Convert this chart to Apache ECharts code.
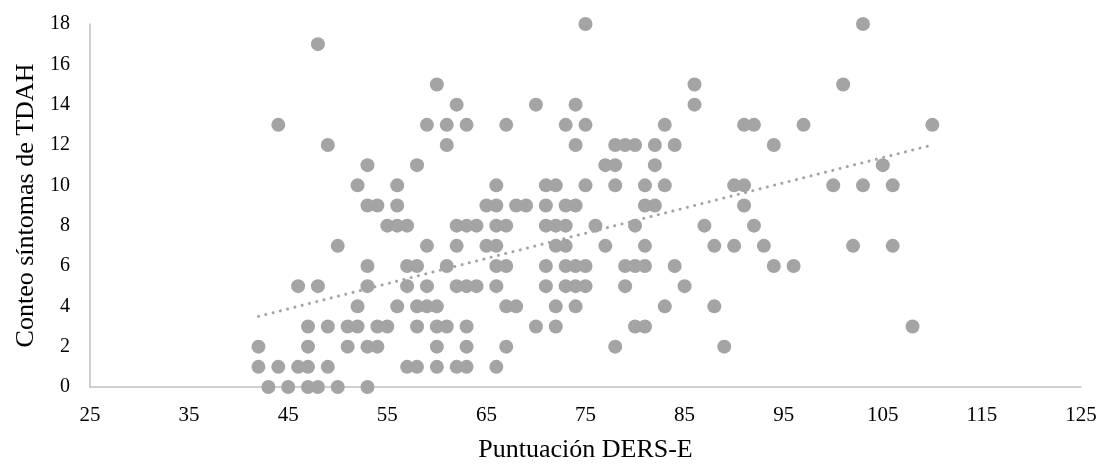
<!DOCTYPE html>
<html>
<head>
<meta charset="utf-8">
<script src="https://cdn.jsdelivr.net/npm/echarts@6/dist/echarts.min.js"></script>
<style>
html,body{margin:0;padding:0;background:#fff;}
#chart{width:1106px;height:464px;}
</style>
</head>
<body>
<div id="chart"></div>
<script>
// Puntuación DERS-E (x) and Conteo síntomas de TDAH (y), one entry per participant
const dersScores = [
  43,45,47,48,50,53,
  42,44,46,47,49,57,58,60,62,63,66,
  42,47,51,53,54,60,63,67,78,89,
  47,49,51,52,54,55,58,60,61,63,70,72,80,81,108,
  52,56,58,59,60,67,68,72,74,83,88,
  46,48,53,57,59,62,63,64,66,71,73,74,75,79,85,
  53,57,58,61,66,67,71,73,74,75,79,80,81,84,94,96,
  50,59,62,65,66,72,73,77,81,88,90,93,102,106,
  55,56,57,62,63,64,66,67,71,72,73,76,80,87,92,
  53,54,56,65,66,68,69,71,73,74,81,82,91,
  52,56,66,71,72,75,78,81,83,90,91,100,103,106,
  53,58,77,78,82,105,
  49,61,74,78,79,80,82,84,94,
  44,59,61,63,67,73,75,83,91,92,97,110,
  62,70,74,86,
  60,86,101,
  48,
  75,103
];
const tdahCounts = [
  0,0,0,0,0,0,
  1,1,1,1,1,1,1,1,1,1,1,
  2,2,2,2,2,2,2,2,2,2,
  3,3,3,3,3,3,3,3,3,3,3,3,3,3,3,
  4,4,4,4,4,4,4,4,4,4,4,
  5,5,5,5,5,5,5,5,5,5,5,5,5,5,5,
  6,6,6,6,6,6,6,6,6,6,6,6,6,6,6,6,
  7,7,7,7,7,7,7,7,7,7,7,7,7,7,
  8,8,8,8,8,8,8,8,8,8,8,8,8,8,8,
  9,9,9,9,9,9,9,9,9,9,9,9,9,
  10,10,10,10,10,10,10,10,10,10,10,10,10,10,
  11,11,11,11,11,11,
  12,12,12,12,12,12,12,12,12,
  13,13,13,13,13,13,13,13,13,13,13,13,
  14,14,14,14,
  15,15,15,
  17,
  18,18
];
// Linear trend line: [DERS-E, TDAH] at its two ends
const trendX = [42, 110];
const trendY = [3.5, 12.0];
const xTicks = {min: 25, max: 125, interval: 10};
const yTicks = {min: 0, max: 18, interval: 2};
const xTitle = 'Puntuación DERS-E';
const yTitle = 'Conteo síntomas de TDAH';

const points = dersScores.map((x, i) => [x, tdahCounts[i]]);
const trend = trendX.map((x, i) => [x, trendY[i]]);

const font = '"Liberation Serif", "Times New Roman", serif';
const axisColor = '#c0c0c0';

const chart = echarts.init(document.getElementById('chart'), null, {renderer: 'canvas'});
chart.setOption({
  animation: false,
  backgroundColor: '#ffffff',
  grid: {left: 90, right: 25, top: 24, bottom: 77, containLabel: false, outerBoundsMode: 'none'},
  xAxis: {
    type: 'value',
    min: xTicks.min, max: xTicks.max, interval: xTicks.interval,
    name: xTitle,
    nameLocation: 'middle',
    nameGap: 50,
    nameTextStyle: {fontFamily: font, fontSize: 26, color: '#000'},
    axisLine: {show: true, lineStyle: {color: axisColor, width: 1.5}},
    axisTick: {show: false},
    splitLine: {show: false},
    axisLabel: {fontFamily: font, fontSize: 21, color: '#000', margin: 18}
  },
  yAxis: {
    type: 'value',
    min: yTicks.min, max: yTicks.max, interval: yTicks.interval,
    name: yTitle,
    nameLocation: 'middle',
    nameGap: 51,
    nameRotate: 90,
    nameTextStyle: {fontFamily: font, fontSize: 26, color: '#000'},
    axisLine: {show: true, lineStyle: {color: axisColor, width: 1.5}},
    axisTick: {show: false},
    splitLine: {show: false},
    axisLabel: {fontFamily: font, fontSize: 20, color: '#000', margin: 20}
  },
  series: [
    {
      type: 'scatter',
      data: points,
      symbol: 'circle',
      symbolSize: 14,
      itemStyle: {color: '#a4a4a4', opacity: 1},
      z: 2
    },
    {
      type: 'line',
      data: trend,
      symbol: 'none',
      lineStyle: {color: '#a4a4a4', width: 3, type: [0.1, 7.4], cap: 'round'},
      z: 3
    }
  ]
});
</script>
</body>
</html>
